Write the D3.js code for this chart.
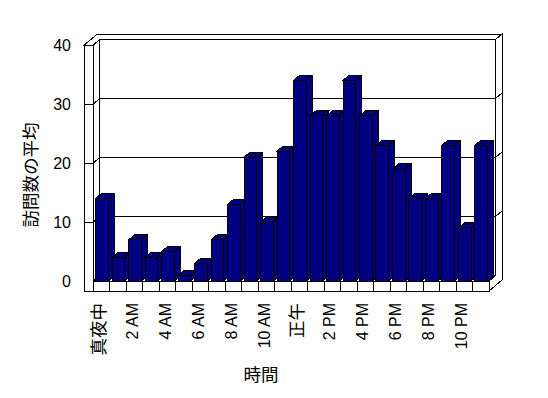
<!DOCTYPE html>
<html lang="ja">
<head>
<meta charset="UTF-8">
<script src="https://cdnjs.cloudflare.com/ajax/libs/d3/7.8.5/d3.min.js"></script>
<style>
  body { margin: 0; background: #fff; }
  text { font-family: "Liberation Sans", "Noto Sans CJK JP", sans-serif; font-size: 16px; fill: #000; }
  text.cjk { font-size: 17.5px; }
  path, line, rect { shape-rendering: crispEdges; }
</style>
</head>
<body>
<svg id="chart" width="548" height="398"></svg>
<script>
// data
var hours = ["真夜中","1 AM","2 AM","3 AM","4 AM","5 AM","6 AM","7 AM","8 AM","9 AM","10 AM","11 AM",
             "正午","1 PM","2 PM","3 PM","4 PM","5 PM","6 PM","7 PM","8 PM","9 PM","10 PM","11 PM"];
var visits = [14,4,7,4,5,1,3,7,13,21,10,22,34,28,28,34,28,23,19,14,14,23,9,23];
var yTicks = [0,10,20,30,40];
var xTitle = "時間";
var yTitle = "訪問数の平均";

var svg = d3.select("#chart");
var isCjk = s => /[^\x00-\x7F]/.test(s);

// front plane box
var xL = 84.3, xI = 93.3, xR = 489, yT = 45, yF = 281, yB = 291;
var DX = 6.5, DY = 5.5;      // one depth step
var bdx = 6, bdy = 5;        // bar depth
function P(x, y, k) { return [x + k * DX, y - k * DY]; }
function poly(pts) { return "M" + pts.map(p => p.join(",")).join("L") + "Z"; }

var x = d3.scaleBand().domain(hours).range([xI, xR]).padding(0);
var y = d3.scaleLinear().domain([0, 40]).range([yF, yT]);

var walls = svg.append("g").attr("fill", "#fff").attr("stroke", "#000").attr("stroke-width", 1);

// back wall inner face
walls.append("path").attr("d", poly([P(xI, yT, 1), P(xR, yT, 1), P(xR, yF, 1), P(xI, yF, 1)]));
// top of walls
walls.append("path").attr("d", poly([P(xL, yT, 0), P(xI, yT, 0), P(xI, yT, 1), P(xR, yT, 1), P(xR, yT, 2), P(xL, yT, 2)]));
// right side of back wall + floor
walls.append("path").attr("d", poly([P(xR, yT, 1), P(xR, yT, 2), P(xR, yB, 2), P(xR, yB, 0), P(xR, yF, 0), P(xR, yF, 1)]));
// left wall inner face
walls.append("path").attr("d", poly([P(xI, yT, 0), P(xI, yT, 1), P(xI, yF, 1), P(xI, yF, 0)]));
// floor top
walls.append("path").attr("d", poly([P(xI, yF, 0), P(xR, yF, 0), P(xR, yF, 1), P(xI, yF, 1)]));
// left wall front
walls.append("path").attr("d", poly([[xL, yT], [xI, yT], [xI, yB], [xL, yB]]));
// floor front
walls.append("path").attr("d", poly([[xI, yF], [xR, yF], [xR, yB], [xI, yB]]));

// floor dividers
walls.selectAll("line.div")
  .data(hours)
  .enter().append("line")
    .attr("x1", d => x(d)).attr("x2", d => x(d))
    .attr("y1", yF).attr("y2", yB);

// gridlines
var line = d3.line();
walls.selectAll("path.grid")
  .data(yTicks.filter(v => v > 0 && v < 40))
  .enter().append("path")
    .attr("fill", "none")
    .attr("d", v => line([[xL, y(v)], [xI, y(v)], P(xI, y(v), 1), P(xR, y(v), 1), P(xR, y(v), 2)]));

// bars
var bw = x.bandwidth() * 0.77, boff = x.bandwidth() * 0.145;
var bars = svg.append("g").attr("fill", "#000080").attr("stroke", "#000").attr("stroke-width", 1)
  .selectAll("g")
  .data(hours.map((h, i) => ({ h: h, v: visits[i] })))
  .enter().append("g");

bars.append("path").attr("d", d => {
  var x0 = x(d.h) + boff, x1 = x0 + bw, yv = y(d.v);
  return poly([[x1, yv], [x1 + bdx, yv - bdy], [x1 + bdx, yF - bdy], [x1, yF]]);
});
bars.append("path").attr("d", d => {
  var x0 = x(d.h) + boff, x1 = x0 + bw, yv = y(d.v);
  return poly([[x0, yv], [x0 + bdx, yv - bdy], [x1 + bdx, yv - bdy], [x1, yv]]);
});
bars.append("rect")
  .attr("x", d => x(d.h) + boff)
  .attr("y", d => y(d.v))
  .attr("width", bw)
  .attr("height", d => yF - y(d.v));

// y tick labels
svg.append("g").selectAll("text")
  .data(yTicks)
  .enter().append("text")
    .attr("x", 71)
    .attr("y", d => y(d))
    .attr("dy", "0.35em")
    .attr("text-anchor", "end")
    .text(d => d);

// x tick labels (every other hour)
svg.append("g").selectAll("text")
  .data(hours.filter((h, i) => i % 2 === 0))
  .enter().append("text")
    .attr("class", d => isCjk(d) ? "cjk" : null)
    .attr("transform", d => "translate(" + (x(d) + x.bandwidth() / 2 - 2.5) + ",303) rotate(-90)")
    .attr("dy", "0.35em")
    .attr("text-anchor", "end")
    .text(d => d);

// titles
svg.append("text")
  .attr("class", "cjk")
  .attr("x", 261).attr("y", 375)
  .attr("dy", "0.35em")
  .attr("text-anchor", "middle")
  .text(xTitle);

svg.append("text")
  .attr("class", "cjk")
  .attr("transform", "translate(31,175) rotate(-90)")
  .attr("dy", "0.35em")
  .attr("text-anchor", "middle")
  .text(yTitle);
</script>
</body>
</html>
